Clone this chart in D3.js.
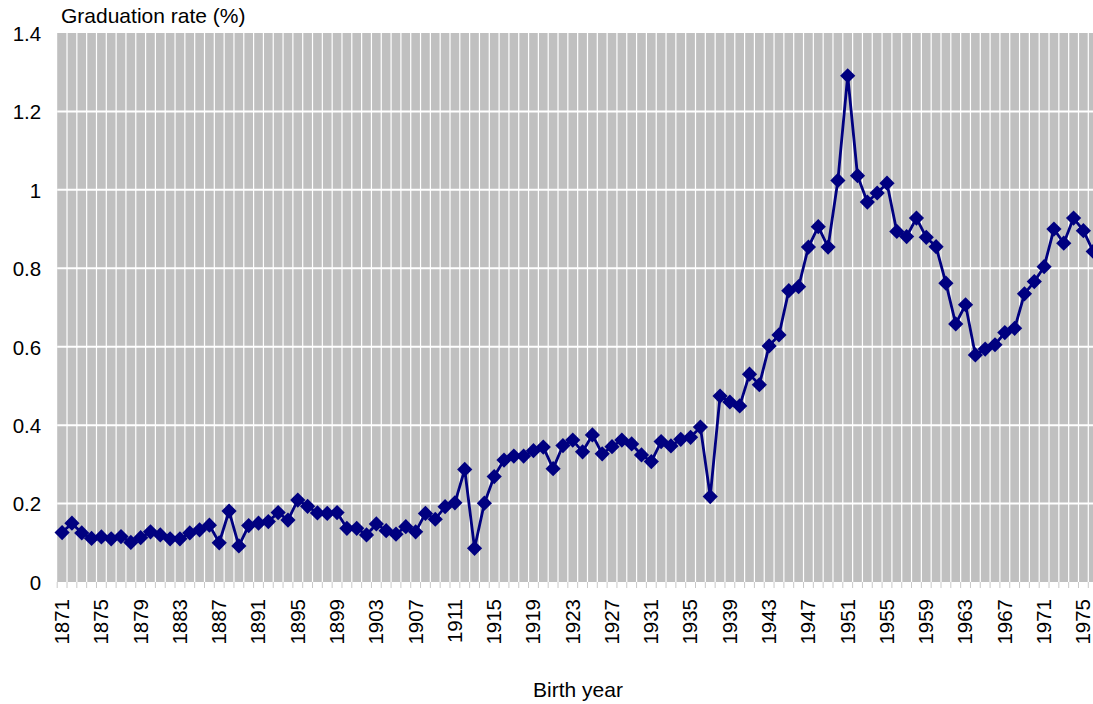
<!DOCTYPE html>
<html>
<head>
<meta charset="utf-8">
<script src="https://cdn.jsdelivr.net/npm/d3@7"></script>
<style>
    body{margin:0;background:#fff;}
    text{font-family:Arial,"Liberation Sans",sans-serif;fill:#000;}
</style>
</head>
<body>
<div id="chart"></div>
<script>

var years = d3.range(1871, 1977);

var rates = [
    0.126, 0.150, 0.125, 0.111, 0.115, 0.110, 0.116, 0.101, 0.113, 0.128,
    0.120, 0.110, 0.110, 0.125, 0.133, 0.145, 0.100, 0.181, 0.092, 0.144,
    0.150, 0.154, 0.177, 0.158, 0.209, 0.193, 0.176, 0.175, 0.177, 0.137,
    0.137, 0.120, 0.148, 0.131, 0.122, 0.141, 0.128, 0.175, 0.160, 0.192,
    0.202, 0.287, 0.086, 0.201, 0.269, 0.311, 0.321, 0.321, 0.335, 0.344,
    0.289, 0.348, 0.362, 0.332, 0.375, 0.327, 0.345, 0.362, 0.352, 0.324,
    0.307, 0.358, 0.347, 0.364, 0.369, 0.395, 0.218, 0.474, 0.459, 0.449,
    0.530, 0.503, 0.602, 0.630, 0.743, 0.753, 0.854, 0.906, 0.854, 1.024,
    1.291, 1.036, 0.969, 0.992, 1.017, 0.894, 0.881, 0.928, 0.879, 0.855,
    0.762, 0.658, 0.707, 0.579, 0.594, 0.605, 0.636, 0.647, 0.735, 0.766,
    0.804, 0.900, 0.864, 0.928, 0.896, 0.843
];

var tickYears = years.filter(function(d){ return (d - 1871) % 4 == 0 });
var yTicks = [0, 0.2, 0.4, 0.6, 0.8, 1, 1.2, 1.4];

var WIDTH = 1093, HEIGHT = 704;
var PLOT_LEFT = 57.2, PLOT_TOP = 33, PLOT_BOTTOM = 582;
var STEP = 9.82;
var FONT = 20.5;

var svg = d3.select("#chart").append("svg")
    .attr("width", WIDTH)
    .attr("height", HEIGHT);

var xScale = d3.scaleBand()
    .domain(years)
    .range([PLOT_LEFT, PLOT_LEFT + years.length * STEP]);

var yScale = d3.scaleLinear()
    .domain([0, 1.4])
    .range([PLOT_BOTTOM, PLOT_TOP]);

// plot background
svg.append("rect")
    .attr("x", PLOT_LEFT)
    .attr("y", PLOT_TOP)
    .attr("width", xScale.range()[1] - PLOT_LEFT)
    .attr("height", PLOT_BOTTOM - PLOT_TOP)
    .attr("fill", "#c0c0c0");

// vertical grid at category boundaries
svg.append("g").attr("class", "vgrid")
    .selectAll("line")
    .data(years.slice(1))
    .enter().append("line")
    .attr("x1", function(d){ return xScale(d) })
    .attr("x2", function(d){ return xScale(d) })
    .attr("y1", PLOT_TOP)
    .attr("y2", PLOT_BOTTOM)
    .attr("stroke", "#fff")
    .attr("stroke-width", 1.2);

// horizontal grid
svg.append("g").attr("class", "hgrid")
    .selectAll("line")
    .data(yTicks.slice(1, -1))
    .enter().append("line")
    .attr("x1", PLOT_LEFT)
    .attr("x2", xScale.range()[1])
    .attr("y1", function(d){ return yScale(d) })
    .attr("y2", function(d){ return yScale(d) })
    .attr("stroke", "#fff")
    .attr("stroke-width", 2);

// y axis labels
var yAxis = d3.axisLeft(yScale)
    .tickValues(yTicks)
    .tickFormat(d3.format("~g"))
    .tickSize(0)
    .tickPadding(16);

svg.append("g")
    .attr("transform", "translate(" + PLOT_LEFT + ",0)")
    .call(yAxis)
    .call(function(g){ g.select(".domain").remove() })
    .selectAll("text")
    .attr("font-size", FONT)
    .attr("font-family", "Arial, 'Liberation Sans', sans-serif")
    .attr("dy", "0.36em");

// x axis: ticks at band edges, labels every 4 years
svg.append("g").attr("class", "xticks")
    .selectAll("line")
    .data(years.concat([1977]))
    .enter().append("line")
    .attr("x1", function(d,i){ return PLOT_LEFT + i * STEP })
    .attr("x2", function(d,i){ return PLOT_LEFT + i * STEP })
    .attr("y1", PLOT_BOTTOM)
    .attr("y2", PLOT_BOTTOM + 6)
    .attr("stroke", "#c8c8c8")
    .attr("stroke-width", 1);

svg.append("g").attr("class", "xlabels")
    .selectAll("text")
    .data(tickYears)
    .enter().append("text")
    .attr("transform", function(d){
        return "translate(" + (xScale(d) + xScale.bandwidth()/2 - 0.5) + "," + (PLOT_BOTTOM + 17) + ") rotate(-90)";
    })
    .attr("text-anchor", "end")
    .attr("dy", "0.36em")
    .attr("font-size", FONT)
    .text(function(d){ return d });

// line and markers
var points = years.map(function(d,i){ return {year: d, rate: rates[i]} });

var line = d3.line()
    .x(function(d){ return xScale(d.year) + xScale.bandwidth()/2 })
    .y(function(d){ return yScale(d.rate) });

svg.append("path")
    .datum(points)
    .attr("d", line)
    .attr("fill", "none")
    .attr("stroke", "#000080")
    .attr("stroke-width", 2.8)
    .attr("stroke-linejoin", "round");

svg.append("g").attr("class", "markers")
    .selectAll("path")
    .data(points)
    .enter().append("path")
    .attr("d", d3.symbol(d3.symbolSquare, 116))
    .attr("transform", function(d){
        return "translate(" + (xScale(d.year) + xScale.bandwidth()/2) + "," + yScale(d.rate) + ") rotate(45)";
    })
    .attr("fill", "#000080");

// titles
svg.append("text")
    .attr("x", 61)
    .attr("y", 23)
    .attr("font-size", 21)
    .text("Graduation rate (%)");

svg.append("text")
    .attr("x", 578)
    .attr("y", 697)
    .attr("text-anchor", "middle")
    .attr("font-size", 21)
    .text("Birth year");

</script>
</body>
</html>
